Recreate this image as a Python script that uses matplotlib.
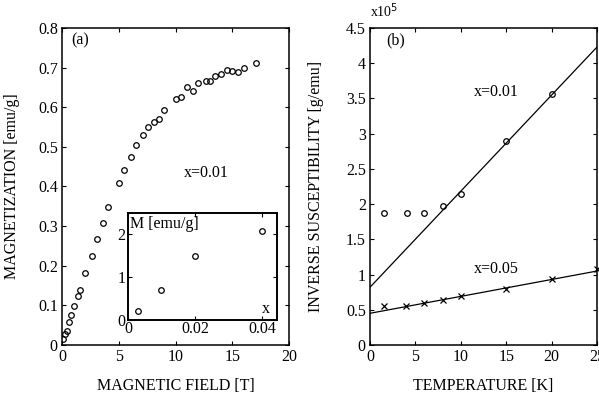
import matplotlib
matplotlib.use("Agg")
import matplotlib.pyplot as plt

# (a) magnetization vs field, x=0.01
field_T = [0.1, 0.26, 0.4, 0.6, 0.8, 1.05, 1.37, 1.58, 2.07, 2.6, 3.04, 3.57, 4.06,
           5.05, 5.5, 6.05, 6.55, 7.1, 7.6, 8.1, 8.55, 9.0, 10.0, 10.5, 11.0, 11.5,
           12.0, 12.7, 13.0, 13.5, 14.0, 14.5, 15.0, 15.5, 16.0, 17.1]
magn = [0.014, 0.028, 0.036, 0.058, 0.075, 0.098, 0.124, 0.139, 0.182, 0.224, 0.268,
        0.307, 0.349, 0.41, 0.442, 0.474, 0.505, 0.529, 0.551, 0.563, 0.571, 0.593,
        0.621, 0.626, 0.652, 0.641, 0.662, 0.666, 0.666, 0.678, 0.683, 0.694, 0.691,
        0.688, 0.700, 0.711]

# inset: M vs x
conc = [0.003, 0.01, 0.02, 0.04]
m_conc = [0.22, 0.70, 1.50, 2.07]

# (b) inverse susceptibility (x10^5 g/emu)
temp_01 = [1.5, 4.1, 6.0, 8.0, 10.0, 15.0, 20.0]
chi_01 = [1.87, 1.87, 1.88, 1.97, 2.15, 2.89, 3.57]
temp_05 = [1.5, 4.0, 6.0, 8.0, 10.0, 15.0, 20.0, 25.0]
chi_05 = [0.56, 0.56, 0.59, 0.64, 0.69, 0.80, 0.93, 1.08]
fit_T = [0, 25]
fit_01 = [0.82, 4.23]
fit_05 = [0.45, 1.05]

plt.rcParams["font.family"] = ["Liberation Serif", "DejaVu Serif"]
plt.rcParams["font.size"] = 11.5

fig = plt.figure(figsize=(5.99, 3.96), dpi=100)

def style(ax):
    ax.tick_params(direction="in", top=True, right=True, length=3, width=0.8, pad=3)
    for s in ax.spines.values():
        s.set_linewidth(1.1)

# ---- panel (a)
ax1 = fig.add_axes([0.1035, 0.1288, 0.379, 0.8005])
ax1.plot(field_T, magn, "o", mfc="none", mec="black", ms=4, mew=0.9)
ax1.set_xlim(0, 20)
ax1.set_ylim(0, 0.8)
ax1.set_xticks([0, 5, 10, 15, 20])
ax1.set_yticks([0, 0.1, 0.2, 0.3, 0.4, 0.5, 0.6, 0.7, 0.8])
ax1.set_yticklabels(["0", "0.1", "0.2", "0.3", "0.4", "0.5", "0.6", "0.7", "0.8"])
ax1.set_xlabel("MAGNETIC FIELD [T]", labelpad=9)
ax1.set_ylabel("MAGNETIZATION [emu/g]", labelpad=13)
ax1.text(0.04, 0.985, "(a)", transform=ax1.transAxes, va="top", ha="left")
ax1.text(12.7, 0.435, "x=0.01", ha="center", va="center")
style(ax1)

# inset
axi = fig.add_axes([0.2137, 0.1919, 0.2487, 0.2702])
axi.plot(conc, m_conc, "o", mfc="none", mec="black", ms=4, mew=0.9)
axi.set_xlim(0, 0.0445)
axi.set_ylim(0, 2.5)
axi.set_xticks([0, 0.02, 0.04])
axi.set_xticklabels(["0", "0.02", "0.04"])
axi.set_yticks([0, 1, 2])
axi.text(0.015, 0.97, "M [emu/g]", transform=axi.transAxes, va="top", ha="left")
axi.text(0.955, 0.03, "x", transform=axi.transAxes, va="bottom", ha="right")
style(axi)
axi.tick_params(axis="x", pad=1)
axi.tick_params(axis="y", pad=2)
for s in axi.spines.values():
    s.set_linewidth(1.4)

# ---- panel (b)
ax2 = fig.add_axes([0.6177, 0.1288, 0.379, 0.8005])
ax2.plot(fit_T, fit_01, "-", color="black", lw=0.9)
ax2.plot(fit_T, fit_05, "-", color="black", lw=0.9)
ax2.plot(temp_01, chi_01, "o", mfc="none", mec="black", ms=4, mew=0.9)
ax2.plot(temp_05, chi_05, "x", color="black", ms=4, mew=0.9, clip_on=False)
ax2.set_xlim(0, 25)
ax2.set_ylim(0, 4.5)
ax2.set_xticks([0, 5, 10, 15, 20, 25])
ax2.set_yticks([0, 0.5, 1, 1.5, 2, 2.5, 3, 3.5, 4, 4.5])
ax2.set_yticklabels(["0", "0.5", "1", "1.5", "2", "2.5", "3", "3.5", "4", "4.5"])
ax2.set_xlabel("TEMPERATURE [K]", labelpad=9)
ax2.set_ylabel("INVERSE SUSCEPTIBILITY [g/emu]", labelpad=16)
ax2.text(0.07, 0.985, "(b)", transform=ax2.transAxes, va="top", ha="left")
ax2.text(0.0, 1.025, r"x10$^5$", transform=ax2.transAxes, va="bottom", ha="left",
         fontsize=10)
ax2.text(13.9, 3.59, "x=0.01", ha="center", va="center")
ax2.text(13.9, 1.08, "x=0.05", ha="center", va="center")
style(ax2)

fig.savefig("out.png", dpi=100)
